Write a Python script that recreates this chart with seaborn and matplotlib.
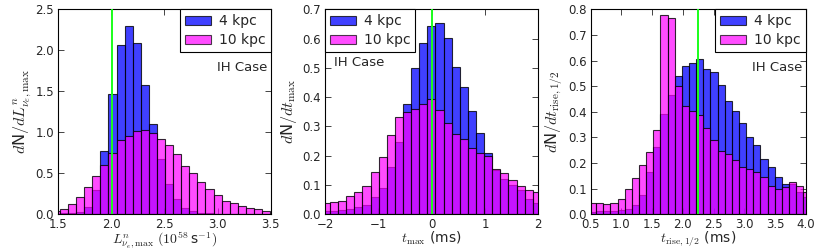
import numpy as np
import pandas as pd
import matplotlib
matplotlib.use("Agg")
import matplotlib.pyplot as plt
import seaborn as sns
from matplotlib.patches import Patch

# ---------------- data (bar heights) ----------------
# Panel 1: L_nu,max histogram
lum_bin_start = 1.440
lum_bin_width = 0.0761
lum_4kpc = [0.005, 0.010, 0.020, 0.030, 0.085, 0.297, 0.772, 1.463, 2.065, 2.300,
            2.085, 1.580, 1.100, 0.670, 0.370, 0.183, 0.073, 0.040, 0.020, 0.012,
            0.008, 0.005, 0.004, 0.003, 0.002, 0.002, 0.001]
lum_10kpc = [0.045, 0.065, 0.126, 0.207, 0.330, 0.463, 0.606, 0.748, 0.906, 0.959,
             1.020, 1.028, 0.990, 0.915, 0.840, 0.735, 0.593, 0.508, 0.398, 0.309,
             0.232, 0.163, 0.138, 0.098, 0.077, 0.061, 0.045]
lum_marker = 2.01

# Panel 2: t_max histogram
tmax_bin_start = -2.058
tmax_bin_width = 0.1521
tmax_4kpc = [0.0125, 0.0125, 0.015, 0.018, 0.025, 0.032, 0.058, 0.091, 0.160, 0.248,
             0.376, 0.498, 0.584, 0.643, 0.654, 0.601, 0.504, 0.434, 0.352, 0.277,
             0.210, 0.150, 0.121, 0.099, 0.083, 0.051, 0.038]
tmax_10kpc = [0.0376, 0.042, 0.044, 0.061, 0.075, 0.098, 0.143, 0.196, 0.270, 0.332,
              0.348, 0.360, 0.376, 0.395, 0.357, 0.313, 0.274, 0.257, 0.228, 0.210,
              0.200, 0.156, 0.140, 0.117, 0.098, 0.082, 0.077]
tmax_marker = 0.0

# Panel 3: t_rise,1/2 histogram
trise_bin_start = 0.473
trise_bin_width = 0.1163
trise_4kpc = [0.009, 0.013, 0.014, 0.014, 0.016, 0.020, 0.036, 0.074, 0.164, 0.263,
              0.390, 0.466, 0.540, 0.580, 0.592, 0.606, 0.568, 0.557, 0.505, 0.444,
              0.403, 0.355, 0.303, 0.269, 0.217, 0.183, 0.147, 0.118, 0.120, 0.087,
              0.069]
trise_10kpc = [0.0455, 0.043, 0.042, 0.044, 0.060, 0.099, 0.140, 0.193, 0.243, 0.329,
               0.778, 0.767, 0.500, 0.424, 0.402, 0.388, 0.337, 0.291, 0.247, 0.235,
               0.212, 0.183, 0.178, 0.164, 0.147, 0.109, 0.099, 0.105, 0.125, 0.112,
               0.086]
trise_marker = 2.24

series_labels = ["4 kpc", "10 kpc"]

# ---------------- style ----------------
sns.set_theme(style="ticks")
plt.rcParams.update({
    "font.family": ["DejaVu Sans"],
    "mathtext.fontset": "cm",
    "xtick.direction": "in",
    "ytick.direction": "in",
    "xtick.top": True,
    "ytick.right": True,
    "xtick.major.size": 4,
    "ytick.major.size": 4,
    "xtick.major.width": 0.6,
    "ytick.major.width": 0.6,
    "axes.edgecolor": "black",
    "axes.linewidth": 0.8,
    "xtick.labelsize": 8.5,
    "ytick.labelsize": 8.5,
    "axes.labelsize": 10,
    "xtick.major.pad": 2.5,
    "ytick.major.pad": 3,
})

col_4 = (0.0, 0.0, 1.0)
col_10 = (1.0, 0.0, 1.0)
alpha_4 = 0.75
alpha_10 = 0.70

fig = plt.figure(figsize=(8.3, 2.52), dpi=100)
bottom, height = 0.1496, 0.8135
axes = [fig.add_axes([0.0702, bottom, 0.2559, height]),
        fig.add_axes([0.3916, bottom, 0.2570, height]),
        fig.add_axes([0.7117, bottom, 0.2590, height])]


def draw_panel(ax, start, width, h4, h10, marker, xlim, ylim, xticks, yticks,
               xfmt, yfmt, xlabel, ylabel, legend_loc, text_xy, text_ha):
    n = len(h4)
    edges = [float(start + width * k) for k in range(n + 1)]
    centers = [0.5 * (edges[k] + edges[k + 1]) for k in range(n)]
    df = pd.DataFrame({"x": centers, "h4": h4, "h10": h10})
    sns.histplot(data=df, x="x", weights="h4", bins=edges, color=col_4,
                 alpha=alpha_4, edgecolor=(0, 0, 0, 0.8), linewidth=0.8, ax=ax)
    sns.histplot(data=df, x="x", weights="h10", bins=edges, color=col_10,
                 alpha=alpha_10, edgecolor=(0, 0, 0, 0.8), linewidth=0.8, ax=ax)
    ax.axvline(marker, color=(0.1, 1.0, 0.1), lw=1.4, zorder=5)
    ax.set_xlim(*xlim)
    ax.set_ylim(*ylim)
    ax.set_xticks(xticks)
    ax.set_yticks(yticks)
    ax.set_xticklabels([xfmt(v) for v in xticks])
    ax.set_yticklabels([yfmt(v) for v in yticks])
    ax.set_xlabel(xlabel, labelpad=-1)
    ax.set_ylabel(ylabel, labelpad=2, fontsize=11.5)
    handles = [Patch(facecolor=col_4, alpha=alpha_4, edgecolor="black", linewidth=0.8),
               Patch(facecolor=col_10, alpha=alpha_10, edgecolor="black", linewidth=0.8)]
    leg = ax.legend(handles, series_labels, loc=legend_loc, borderaxespad=0,
                    fontsize=10, fancybox=False, framealpha=1, edgecolor="black",
                    handlelength=1.85, handleheight=0.65, borderpad=0.35,
                    labelspacing=0.35, handletextpad=0.6)
    leg.get_frame().set_linewidth(0.8)
    ax.text(text_xy[0], text_xy[1], "IH Case", transform=ax.transAxes,
            ha=text_ha, va="center", fontsize=9.5)


def f1(v):
    return f"{v:.1f}"


def fint(v):
    return f"{v:.0f}".replace("-", "\u2212")


draw_panel(axes[0], lum_bin_start, lum_bin_width, lum_4kpc, lum_10kpc, lum_marker,
           (1.5, 3.5), (0, 2.5), [1.5, 2.0, 2.5, 3.0, 3.5], [0, 0.5, 1.0, 1.5, 2.0, 2.5],
           f1, f1,
           r"$L^{n}_{\nu_e,\mathrm{max}}\ (10^{58}\,$s$^{-1})$",
           r"$d$N$/dL^{n}_{\nu_e,\mathrm{max}}$",
           "upper right", (0.985, 0.715), "right")

draw_panel(axes[1], tmax_bin_start, tmax_bin_width, tmax_4kpc, tmax_10kpc, tmax_marker,
           (-2, 2), (0, 0.7), [-2, -1, 0, 1, 2], [0, 0.1, 0.2, 0.3, 0.4, 0.5, 0.6, 0.7],
           fint, f1,
           r"$t_{\mathrm{max}}$ (ms)",
           r"$d$N$/dt_{\mathrm{max}}$",
           "upper left", (0.04, 0.74), "left")

draw_panel(axes[2], trise_bin_start, trise_bin_width, trise_4kpc, trise_10kpc, trise_marker,
           (0.5, 4.0), (0, 0.8), [0.5, 1.0, 1.5, 2.0, 2.5, 3.0, 3.5, 4.0],
           [0, 0.1, 0.2, 0.3, 0.4, 0.5, 0.6, 0.7, 0.8],
           f1, f1,
           r"$t_{\mathrm{rise},1/2}$ (ms)",
           r"$d$N$/dt_{\mathrm{rise},1/2}$",
           "upper right", (0.985, 0.715), "right")

fig.savefig("out.png", dpi=100, facecolor="white")
